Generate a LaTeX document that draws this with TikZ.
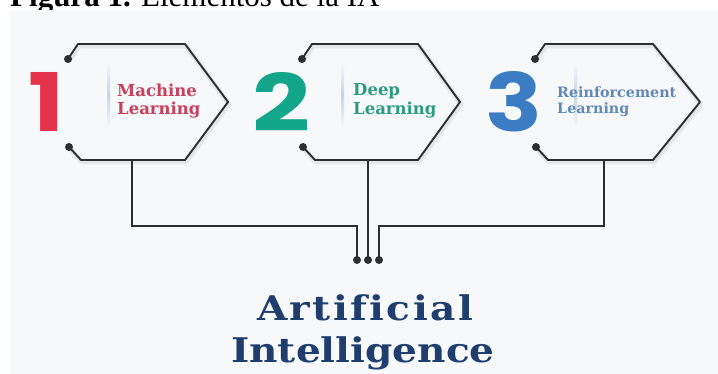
\documentclass[tikz,border=0pt]{standalone}
\usepackage{fontspec}
\setmainfont{Liberation Serif}
\newfontfamily\labfont{DejaVu Serif}
\newfontfamily\titlefont{DejaVu Serif}[FakeStretch=1.15, Ligatures=NoCommon]
\newfontfamily\numfont{Poppins}
\usetikzlibrary{calc}
\definecolor{bgc}{HTML}{F7F8FA}
\definecolor{linec}{HTML}{2E2E2E}
\definecolor{redc}{HTML}{E5334B}
\definecolor{tealc}{HTML}{13A68A}
\definecolor{bluec}{HTML}{3C7CC3}
\definecolor{mlc}{HTML}{C8405B}
\definecolor{dlc}{HTML}{2B9C80}
\definecolor{rlc}{HTML}{6189B5}
\definecolor{titlec}{HTML}{1F3E6D}
\definecolor{divc}{HTML}{C9D4E4}
\tikzset{
  outline/.style={draw=linec, line width=1.9pt, line join=round},
  shadowline/.style={draw=black, opacity=0.07, line width=5pt, line join=round},
  wire/.style={draw=linec, line width=1.9pt},
  dotc/.style={fill=linec},
  numtext/.style={anchor=south west, inner sep=0pt},
  labtext/.style={anchor=west, inner sep=0pt, align=left, font=\labfont\bfseries\fontsize{16.5}{18.5}\selectfont},
  titletext/.style={anchor=base, inner sep=0pt, text=titlec, font=\titlefont\bfseries\fontsize{34}{42}\selectfont},
}
\begin{document}
\begin{tikzpicture}[x=1pt,y=-1pt]
\useasboundingbox (0,0) rectangle (718,374);
\clip (0,0) rectangle (718,374);
\node[anchor=base west, inner sep=0pt, font=\fontsize{31}{31}\selectfont] (cap) at (10,7) {\textbf{Figura 1.} Elementos de la IA};
\fill[bgc] (10,10) rectangle (718,374);
% hexagons
\foreach \i/\xl/\xr/\xp in {1/78/185/228, 2/312/418/460, 3/545/653/700}{
  \coordinate (t\i) at (\xl-10,59);
  \coordinate (b\i) at (\xl-9,147);
  \path[shadowline] ([shift={(1,2)}]t\i) -- (\xl+1,46) -- (\xr+1,46) -- (\xp+1,104) -- (\xr+1,162) -- (\xl+4,162) -- ([shift={(1,2)}]b\i);
  \shade[top color=bgc, bottom color=bgc, middle color=divc] (\xl+29,62) rectangle (\xl+32,128);
  \draw[outline] (t\i) -- (\xl,44) -- (\xr,44) -- (\xp,102) -- (\xr,160) -- (\xl+3,160) -- (b\i);
  \fill[dotc] (t\i) circle (4);
  \fill[dotc] (b\i) circle (4);
}
% numbers
\node[numtext, text=redc] (n1) at (28,132) {\resizebox{36pt}{59pt}{\numfont\bfseries 1}};
\node[numtext, text=tealc] (n2) at (252,132) {\resizebox{58pt}{59pt}{\numfont\bfseries 2}};
\node[numtext, text=bluec] (n3) at (485,132) {\resizebox{57pt}{60pt}{\numfont\bfseries 3}};
% labels
\node[labtext, text=mlc] (l1) at (117,101) {Machine\\Learning};
\node[labtext, text=dlc] (l2) at (353,101) {Deep\\Learning};
\node[labtext, text=rlc, font=\labfont\bfseries\fontsize{14.3}{16}\selectfont] (l3) at (557,102) {Reinforcement\\Learning};
% connectors
\coordinate (h1) at (132,160);
\coordinate (h2) at (368,160);
\coordinate (h3) at (604,160);
\coordinate (k1) at (357,226);
\coordinate (k3) at (379,226);
\coordinate (e1) at (357,260);
\coordinate (e2) at (368,260);
\coordinate (e3) at (379,260);
\draw[wire] (h1) |- (k1) -- (e1);
\draw[wire] (h2) -- (e2);
\draw[wire] (h3) |- (k3) -- (e3);
\foreach \e in {e1,e2,e3}{\fill[dotc] (\e) circle (4);}
% title
\node[titletext] (ai1) at (365,320) {\addfontfeatures{LetterSpace=7}Artificial};
\node[titletext] (ai2) at (363,362) {Intelligence};
\end{tikzpicture}
\end{document}
